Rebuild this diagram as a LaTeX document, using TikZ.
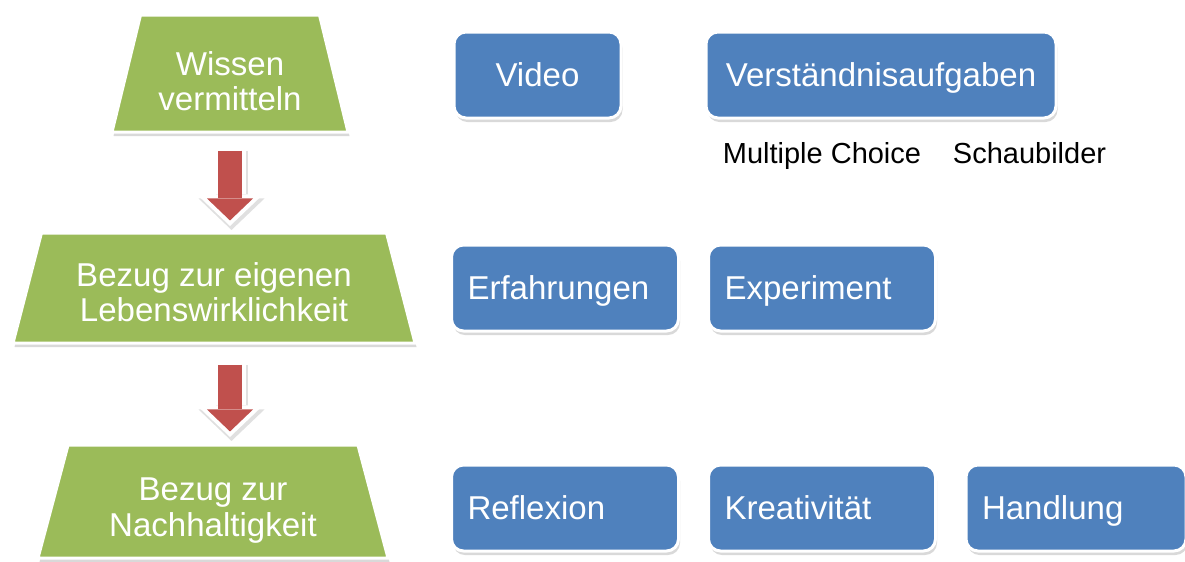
\documentclass[tikz,border=0pt]{standalone}
\usepackage{fontspec}
\setmainfont{Liberation Sans}
\usepackage{tikz}
\usetikzlibrary{arrows.meta,shapes.geometric,shadows,calc}
\tikzset{>={Triangle[width=9.2mm,length=4.4mm,line width=0pt]}}
\definecolor{gruen}{HTML}{9BBB59}
\definecolor{blau}{HTML}{4F81BD}
\definecolor{rot}{HTML}{C0504D}
\tikzset{
	stufe/.style={trapezium, trapezium stretches body=true, fill=gruen, draw=white, line width=0.6mm, inner ysep=0pt, text depth=0pt, drop shadow={shadow xshift=0.3mm, shadow yshift=-0.8mm, opacity=0.3}},
	stufentext/.style={text=white, align=center},
	feld/.style={rectangle, rounded corners=2.4mm, fill=blau, draw=white, line width=0.6mm, text=white, minimum height=1.72cm, inner xsep=3.2mm, text height=13.5pt, text depth=0pt, drop shadow={shadow xshift=0.3mm, shadow yshift=-0.8mm, opacity=0.3}},
	feldlinks/.style={feld, text width=3.9cm, align=left},
	notiz/.style={font=\fontsize{16.5}{18}\selectfont, text=black},
	pfeilrand/.style={draw=white, line width=6.4mm, shorten <=-0.8mm, shorten >=-1.1mm, -{Triangle[width=13.2mm,length=6.3mm,line width=0pt]}},
	pfeilschatten/.style={pfeilrand, draw=black!12, transform canvas={shift={(0.03,-0.08)}}},
	pfeil/.style={draw=rot, line width=4.8mm, ->}
}

\begin{document}
\begin{tikzpicture}[font=\fontsize{18.8}{20}\selectfont]
			\useasboundingbox (0,0) rectangle (23.7,-11.22);
			% linke Spalte
			\node (wissen) at (4.60,-1.47) [stufe, minimum width=4.72cm, text height=2.34cm, trapezium angle=76.3] {};
			\node (lebenswelt) at (4.28,-5.76) [stufe, minimum width=8.04cm, text height=2.2cm, trapezium angle=75.5] {};
			\node (nachhaltig) at (4.26,-10.03) [stufe, minimum width=7.0cm, text height=2.26cm, trapezium angle=75.1] {};
			\node (wissentext) at ($(wissen)+(0,-0.15)$) [stufentext] {Wissen\\vermitteln};
			\node (lebensweltText) at ($(lebenswelt)+(0,-0.08)$) [stufentext] {Bezug zur eigenen\\Lebenswirklichkeit};
			\node (nachhaltigtext) at ($(nachhaltig)+(0,-0.18)$) [stufentext] {Bezug zur\\Nachhaltigkeit};
			% Felder
			\node (video) at (10.75,-1.50) [feld, minimum width=3.34cm] {Video};
			\node (aufgaben) at (17.62,-1.50) [feld, minimum width=7.0cm] {Verständnisaufgaben};
			\node (mc) at (16.44,-3.26) [notiz, anchor=base] {Multiple Choice};
			\node (schaubild) at (20.59,-3.26) [notiz, anchor=base] {Schaubilder};
			\node (erfahrung) at (11.30,-5.76) [feldlinks] {Erfahrungen};
			\node (experiment) at (16.44,-5.76) [feldlinks] {Experiment};
			\node (reflexion) at (11.30,-10.16) [feldlinks] {Reflexion};
			\node (kreativ) at (16.44,-10.16) [feldlinks] {Kreativität};
			\node (handlung) at (21.52,-10.16) [feldlinks, text width=3.76cm] {Handlung};
			% Pfeile
			\draw[pfeilschatten] ($(wissen.south)+(0,-0.34)$) -- ($(wissen.south |- lebenswelt.north)+(0,0.22)$);
			\draw[pfeilrand] ($(wissen.south)+(0,-0.34)$) -- ($(wissen.south |- lebenswelt.north)+(0,0.22)$);
			\draw[pfeil] ($(wissen.south)+(0,-0.34)$) -- ($(wissen.south |- lebenswelt.north)+(0,0.22)$);
			\draw[pfeilschatten] ($(wissen.south |- lebenswelt.south)+(0,-0.4)$) -- ($(wissen.south |- nachhaltig.north)+(0,0.24)$);
			\draw[pfeilrand] ($(wissen.south |- lebenswelt.south)+(0,-0.4)$) -- ($(wissen.south |- nachhaltig.north)+(0,0.24)$);
			\draw[pfeil] ($(wissen.south |- lebenswelt.south)+(0,-0.4)$) -- ($(wissen.south |- nachhaltig.north)+(0,0.24)$);
		\end{tikzpicture}
\end{document}
